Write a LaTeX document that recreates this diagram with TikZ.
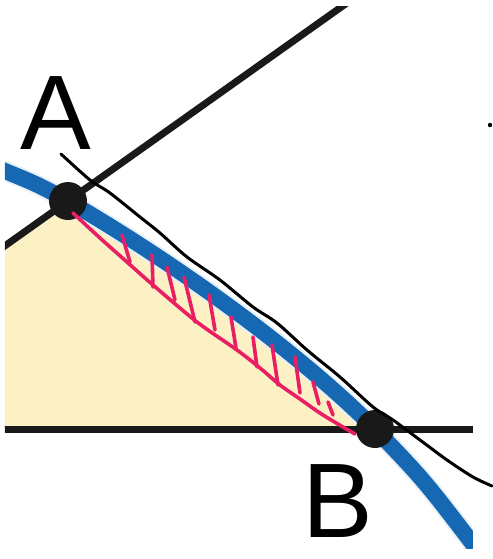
\documentclass[tikz,border=0pt]{standalone}
\usepackage{fontspec}
\setmainfont{Liberation Sans}
\usepackage{tikz}

\definecolor{curveblue}{RGB}{22,104,178}
\definecolor{regionfill}{RGB}{252,241,197}
\definecolor{hatchpink}{RGB}{233,30,99}

\tikzset{
	pointlabel/.style={inner sep=0pt,font=\fontsize{53}{60}\selectfont},
	hatch/.style={hatchpink,line width=1.8pt,line cap=round,line join=round},
	freehand/.style={black,line width=1.5pt,line cap=round,line join=round},
}

\begin{document}
\begin{tikzpicture}[x=0.5pt,y=-0.5pt]
	\useasboundingbox (0,0) rectangle (493,559);
	\coordinate (A) at (68,201);
	\coordinate (B) at (375,429);

	% printed figure
	\begin{scope}
		\clip (5,6) rectangle (473,548);
		\fill[regionfill] (5,429) -- (5,245.7) -- (A) .. controls (168,259) and (292,346) .. (B) -- cycle;
		\draw[black!90,line width=3.5pt] (-10,256.4) -- (A) -- (360,-6.3);
		\draw[black!90,line width=3.5pt] (0,429) -- (480,429);
		\draw[curveblue!10!white,line width=10pt] (-5,167) .. controls (38,184.5) .. (A)
			.. controls (168,259) and (292,346) .. (B) .. controls (425,481) .. (485,560);
		\draw[curveblue,line width=8pt] (-5,167) .. controls (38,184.5) .. (A)
			.. controls (168,259) and (292,346) .. (B) .. controls (425,481) .. (485,560);
	\end{scope}
	\fill[black!90] (A) circle (9.5pt);
	\fill[black!90] (B) circle (9.5pt);
	\node[pointlabel] (labA) at (55.5,113.5) {A};
	\node[pointlabel] (labB) at (337.5,501.5) {B};

	% pen marks
	\draw[hatch] plot[smooth,tension=0.5] coordinates {(73,213) (100,238) (127,262) (153,285)
		(197,322) (237,350) (260,368) (280,385) (300,399) (323,415) (355,434)};
	\draw[hatch] (122,235) -- (130,262) (152,255) -- (153,287) (167,267) -- (175,300)
		(184,277) -- (195,322) (209,295) -- (215,330) (231,317) -- (236,348)
		(253,337) -- (257,367) (272,345) -- (278,385) (295,357) -- (300,393)
		(313,382) -- (319,404) (328,402) -- (333,415);
	\draw[freehand] plot[smooth,tension=0.5] coordinates {(61,154) (90,180) (110,193) (140,217)
		(160,233) (187,257) (220,280) (253,307) (277,323) (307,350) (340,377) (373,407)
		(393,420) (420,440) (447,460) (473,477) (492,486)};
	\fill (490,125) circle (1.1pt);
\end{tikzpicture}
\end{document}
